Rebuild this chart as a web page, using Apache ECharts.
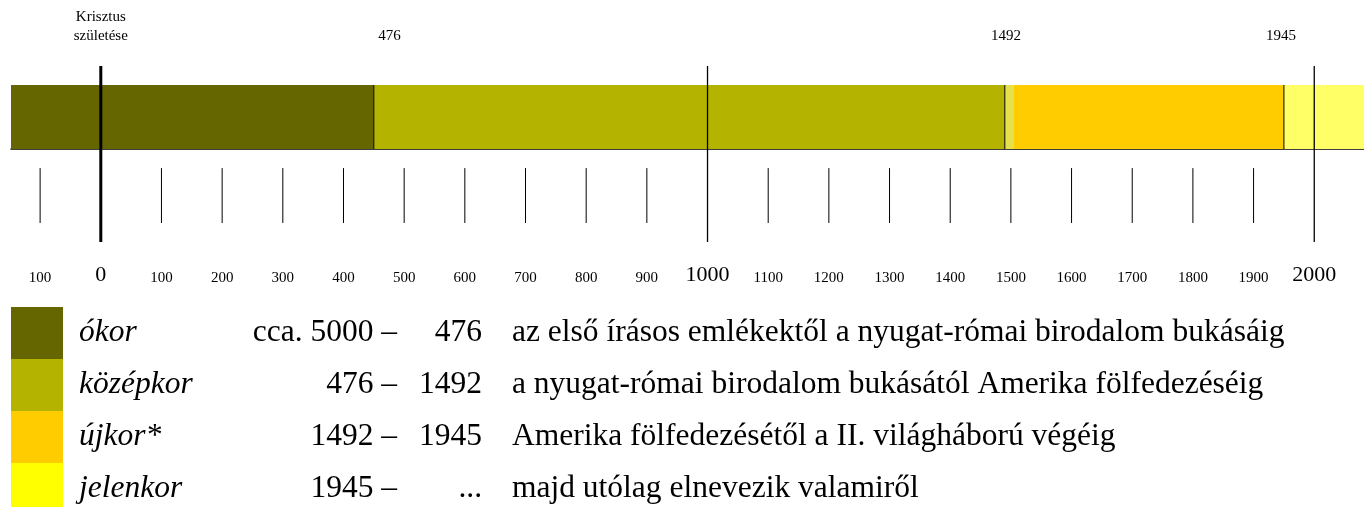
<!DOCTYPE html>
<html>
<head>
<meta charset="utf-8">
<script src="https://cdn.jsdelivr.net/npm/echarts@6/dist/echarts.min.js"></script>
<style>
  html, body { margin: 0; padding: 0; background: #fff; }
  #chart { width: 1364px; height: 507px; }
</style>
</head>
<body>
<div id="chart"></div>
<script>
// time range shown on the strip (years)
const yearMin = -148
const yearMax = 2082

// coloured pieces of the strip, as drawn: [from, to, colour index]
const barFrom = [-148, 450, 1490, 1505, 1950]
const barTo = [450, 1490, 1505, 1950, 2082]
const barColors = ['#666600', '#B3B300', '#E6E04A', '#FFCC00', '#FFFF66']
const dividerYears = [450, 1490, 1950]

// scale below the strip
const scaleYears = [-100, 0, 100, 200, 300, 400, 500, 600, 700, 800, 900, 1000,
    1100, 1200, 1300, 1400, 1500, 1600, 1700, 1800, 1900, 2000]
const majorYears = [0, 1000, 2000]
const topYears = [0, 476, 1492, 1945]

// legend table
const eraNames = ['ókor', 'középkor', 'újkor*', 'jelenkor']
const eraFrom = ['cca. 5000 –', '476 –', '1492 –', '1945 –']
const eraTo = ['476', '1492', '1945', '...']
const eraDesc = [
    'az első írásos emlékektől a nyugat-római birodalom bukásáig',
    'a nyugat-római birodalom bukásától Amerika fölfedezéséig',
    'Amerika fölfedezésétől a II. világháború végéig',
    'majd utólag elnevezik valamiről'
]
const eraColors = ['#666600', '#B3B300', '#FFCC00', '#FFFF00']

const serif = '"Liberation Serif", "Times New Roman", serif'

const chart = echarts.init(document.getElementById('chart'))

// build the legend rows
const legendGraphic = []
const rowTop = 307
const rowH = 52
const font = '31.5px ' + serif
eraNames.forEach((name, i) => {
    const top = rowTop + i * rowH
    const mid = top + 26
    legendGraphic.push({
        type: 'rect', shape: { x: 11, y: top, width: 52, height: rowH },
        style: { fill: eraColors[i] }
    })
    legendGraphic.push({
        type: 'text', x: 79, y: mid,
        style: { text: name, font: 'italic ' + font, fill: '#000', verticalAlign: 'middle', align: 'left' }
    })
    legendGraphic.push({
        type: 'text', x: 397, y: mid,
        style: { text: eraFrom[i], font: font, fill: '#000', verticalAlign: 'middle', align: 'right' }
    })
    legendGraphic.push({
        type: 'text', x: 482, y: mid,
        style: { text: eraTo[i], font: font, fill: '#000', verticalAlign: 'middle', align: 'right' }
    })
    legendGraphic.push({
        type: 'text', x: 512, y: mid,
        style: { text: eraDesc[i], font: font, fill: '#000', verticalAlign: 'middle', align: 'left' }
    })
})

const options = {
    backgroundColor: '#fff',
    animation: false,
    textStyle: { fontFamily: serif },
    grid: [
        { left: 11, right: 0, top: 85, height: 64 },
        { left: 11, right: 0, top: 66, height: 176 }
    ],
    xAxis: [
        {
            gridIndex: 0, type: 'value', min: yearMin, max: yearMax,
            axisLine: { show: true, onZero: false, lineStyle: { color: '#000', width: 1.5 } },
            axisTick: { show: false }, axisLabel: { show: false }, splitLine: { show: false }
        },
        {
            gridIndex: 1, type: 'value', min: yearMin, max: yearMax, position: 'bottom',
            axisLine: { show: false }, axisTick: { show: false }, splitLine: { show: false },
            axisLabel: {
                customValues: scaleYears,
                margin: 44,
                verticalAlign: 'bottom',
                formatter: v => (majorYears.indexOf(v) >= 0 ? '{big|' : '{small|') + Math.abs(v) + '}',
                rich: {
                    big: { fontSize: 22, lineHeight: 22, color: '#000', fontFamily: serif },
                    small: { fontSize: 15, lineHeight: 15, color: '#000', fontFamily: serif }
                }
            }
        },
        {
            gridIndex: 1, type: 'value', min: yearMin, max: yearMax, position: 'top',
            axisLine: { show: false }, axisTick: { show: false }, splitLine: { show: false },
            axisLabel: {
                customValues: topYears,
                margin: 20,
                color: '#000',
                fontSize: 15,
                lineHeight: 19,
                fontFamily: serif,
                formatter: v => v === 0 ? 'Krisztus\nszületése' : String(v)
            }
        }
    ],
    yAxis: [
        { gridIndex: 0, type: 'value', min: 0, max: 1, show: false },
        { gridIndex: 1, type: 'value', min: 0, max: 1, show: false }
    ],
    series: [
        {
            type: 'custom', xAxisIndex: 0, yAxisIndex: 0, z: 1,
            data: barFrom.map((f, i) => [f, barTo[i], i]),
            encode: { x: [0, 1] },
            renderItem: (params, api) => {
                const p0 = api.coord([api.value(0), 1])
                const p1 = api.coord([api.value(1), 0])
                return {
                    type: 'rect',
                    shape: { x: p0[0], y: p0[1], width: p1[0] - p0[0], height: p1[1] - p0[1] },
                    style: { fill: barColors[api.value(2)] }
                }
            }
        },
        {
            type: 'custom', xAxisIndex: 0, yAxisIndex: 0, z: 2,
            data: dividerYears.map(y => [y]),
            encode: { x: 0 },
            renderItem: (params, api) => {
                const a = api.coord([api.value(0), 1])
                const b = api.coord([api.value(0), 0])
                return {
                    type: 'line',
                    shape: { x1: a[0], y1: a[1], x2: b[0], y2: b[1] },
                    style: { stroke: '#000', lineWidth: 1 }
                }
            }
        },
        {
            type: 'custom', xAxisIndex: 1, yAxisIndex: 1, z: 3,
            data: scaleYears.filter(y => majorYears.indexOf(y) < 0).map(y => [y]),
            encode: { x: 0 },
            renderItem: (params, api) => {
                const a = api.coord([api.value(0), 0.42])
                const b = api.coord([api.value(0), 0.108])
                return {
                    type: 'line',
                    shape: { x1: a[0], y1: a[1], x2: b[0], y2: b[1] },
                    style: { stroke: '#000', lineWidth: 1 }
                }
            }
        },
        {
            type: 'custom', xAxisIndex: 1, yAxisIndex: 1, z: 4,
            data: majorYears.map(y => [y]),
            encode: { x: 0 },
            renderItem: (params, api) => {
                const a = api.coord([api.value(0), 1])
                const b = api.coord([api.value(0), 0])
                return {
                    type: 'line',
                    shape: { x1: a[0], y1: a[1], x2: b[0], y2: b[1] },
                    style: { stroke: '#000', lineWidth: api.value(0) === 0 ? 3 : 1.3 }
                }
            }
        }
    ],
    graphic: legendGraphic
}

chart.setOption(options)
</script>
</body>
</html>
